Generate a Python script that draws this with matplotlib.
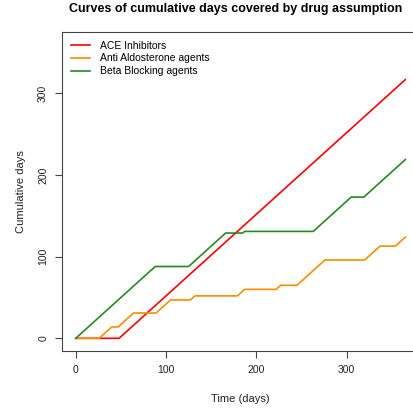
import matplotlib
matplotlib.use('Agg')
from matplotlib import pyplot as plt

plt.rcParams['font.family'] = ['Liberation Sans', 'DejaVu Sans']

# breakpoints of the cumulative curves (day, cumulative days covered)
ace_days = [0, 48, 365]
ace_cum = [0, 0, 317]

anti_days = [0, 26, 40, 47, 64, 89, 105, 127, 132, 179, 187, 222, 227, 245, 276, 320, 337, 354, 365]
anti_cum = [0, 0, 14, 14, 31, 31, 47, 47, 52, 52, 60, 60, 65, 65, 96, 96, 113, 113, 124]

beta_days = [0, 88, 125, 166, 185, 187, 263, 305, 319, 365]
beta_cum = [0, 88, 88, 129, 129, 131, 131, 173, 173, 219]

labels = ['ACE Inhibitors', 'Anti Aldosterone agents', 'Beta Blocking agents']
colors = ['#ff0000', '#ff8c00', '#228b22']

fig = plt.figure(figsize=(4.14, 4.08), dpi=100)
ax = fig.add_axes([0.1498, 0.1404, 0.8611, 0.7819])

ax.plot(ace_days, ace_cum, color=colors[0], lw=1.2, label=labels[0])
ax.plot(anti_days, anti_cum, color=colors[1], lw=1.2, label=labels[1])
ax.plot(beta_days, beta_cum, color=colors[2], lw=1.2, label=labels[2])

ax.set_xlim(-15.2, 379.6)
ax.set_ylim(-15.2, 375.7)
ax.set_xticks([0, 100, 200, 300])
ax.set_yticks([0, 100, 200, 300])
ax.tick_params(direction='out', length=5, width=0.8, color='#444444',
               labelsize=7.5, labelcolor='#222222', pad=5)
for lab in ax.get_yticklabels():
    lab.set_rotation(90)
    lab.set_va('center')
for s in ax.spines.values():
    s.set_color('#444444')
    s.set_linewidth(0.8)

ax.set_xlabel('Time (days)', fontsize=8, labelpad=14, color='#222222')
ax.set_ylabel('Cumulative days', fontsize=8, labelpad=9, color='#222222')
fig.text(0.57, 0.978, 'Curves of cumulative days covered by drug assumption',
         ha='center', va='center', fontsize=9, fontweight='bold')

ax.legend(loc='upper left', frameon=False, fontsize=7.5, handlelength=1.8,
          handletextpad=1.0, labelspacing=0.28, borderaxespad=0.45)

plt.savefig('out.png', dpi=100)
